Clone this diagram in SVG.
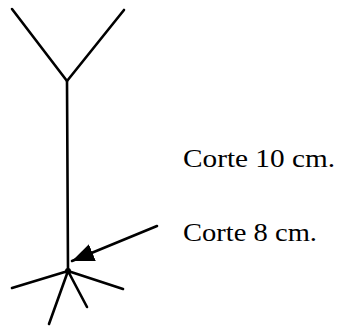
<svg xmlns="http://www.w3.org/2000/svg" width="345" height="326" viewBox="0 0 345 326">
<style>
.ln{stroke:#000;stroke-width:2.6;fill:none;stroke-linecap:round;stroke-linejoin:round}
.lb{font-family:"Liberation Serif","Times New Roman",serif;font-size:25px;fill:#000}
</style>
<defs>
<marker id="ah" markerUnits="userSpaceOnUse" markerWidth="26" markerHeight="20" refX="22" refY="9" orient="auto">
<path d="M0,0 L22,9 L0,18 Z" fill="#000"/>
</marker>
</defs>
<rect width="345" height="326" fill="#fff"/>
<g id="plant">
<path class="ln" d="M12,9 L67,81 L124,10"/>
<path class="ln" d="M67,81 L68,271"/>
<path class="ln" d="M68,271 L12,288 M68,271 L123,289 M68,271 L49,324 M68,271 L87,307"/>
<circle cx="68" cy="271" r="3" fill="#000"/>
</g>
<g id="connectors">
<path class="ln" d="M157,226 L72,261" marker-end="url(#ah)"/>
</g>
<g id="label-10">
<text class="lb" x="183" y="167" textLength="152" lengthAdjust="spacingAndGlyphs">Corte 10 cm.</text>
</g>
<g id="label-8">
<text class="lb" x="183" y="241" textLength="134" lengthAdjust="spacingAndGlyphs">Corte 8 cm.</text>
</g>
</svg>
